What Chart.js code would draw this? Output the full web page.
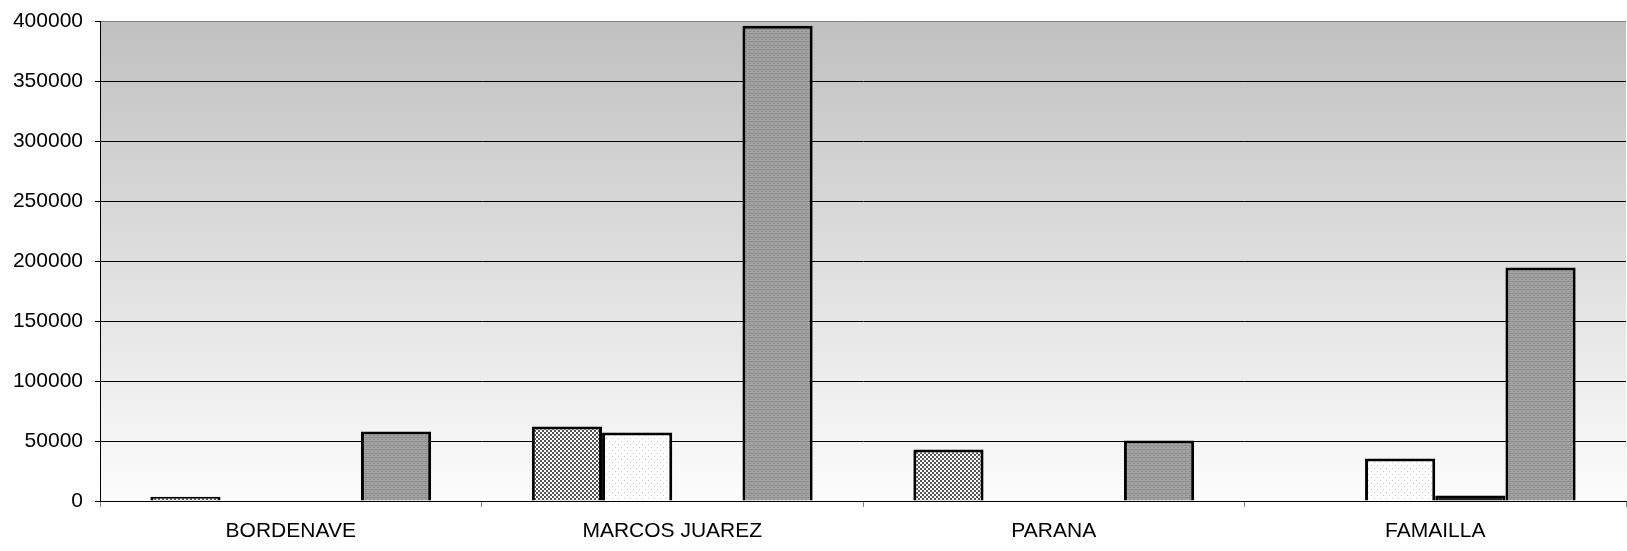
<!DOCTYPE html>
<html>
<head>
<meta charset="utf-8">
<script src="https://cdn.jsdelivr.net/npm/chart.js@4/dist/chart.umd.min.js"></script>
<style>
  html, body { margin: 0; padding: 0; background: #fff; }
  #wrap { width: 1627px; height: 551px; }
</style>
</head>
<body>
<div id="wrap"><canvas id="myChart" width="1627" height="551"></canvas></div>
<script>
// data
const categories = ['BORDENAVE', 'MARCOS JUAREZ', 'PARANA', 'FAMAILLA'];
const serie1 = [3500, 62000, 43000, 0];
const serie2 = [0, 57000, 0, 35500];
const serie3 = [0, 0, 0, 4500];
const serie4 = [58000, 396000, 50500, 194500];
const yTicks = [0, 50000, 100000, 150000, 200000, 250000, 300000, 350000, 400000];

// small canvas patterns for the bar fills
function makePattern(size, draw) {
  var c = document.createElement('canvas');
  c.width = size; c.height = size;
  var g = c.getContext('2d');
  draw(g);
  return g.createPattern(c, 'repeat');
}

var checker = makePattern(4, function (g) {
  g.fillStyle = '#ffffff'; g.fillRect(0, 0, 4, 4);
  g.fillStyle = '#555555'; g.fillRect(0, 0, 2, 2); g.fillRect(2, 2, 2, 2);
});
var dots = makePattern(6, function (g) {
  g.fillStyle = '#ffffff'; g.fillRect(0, 0, 6, 6);
  g.fillStyle = '#c8c8c8'; g.fillRect(0, 0, 1, 1); g.fillRect(3, 3, 1, 1);
});
var darkFill = makePattern(4, function (g) {
  g.fillStyle = '#222222'; g.fillRect(0, 0, 4, 4);
});
var grayFill = makePattern(4, function (g) {
  g.fillStyle = '#a4a4a4'; g.fillRect(0, 0, 4, 4);
  g.fillStyle = '#8c8c8c'; g.fillRect(0, 1, 4, 1); g.fillRect(1, 3, 2, 1);
});

const bgPlugin = {
  id: 'plotBackground',
  beforeDraw(chart) {
    var a = chart.chartArea, ctx = chart.ctx;
    var grad = ctx.createLinearGradient(0, a.top, 0, a.bottom);
    grad.addColorStop(0, '#c0c0c0');
    grad.addColorStop(1, '#fcfcfc');
    ctx.save();
    ctx.fillStyle = grad;
    ctx.fillRect(a.left, a.top, a.right - a.left, a.bottom - a.top);
    ctx.restore();
  }
};

Chart.defaults.font.family = '"Liberation Sans", Arial, sans-serif';
Chart.defaults.color = '#000';

new Chart(document.getElementById('myChart'), {
  type: 'bar',
  data: {
    labels: categories,
    datasets: [
      { label: 'S1', data: serie1, backgroundColor: checker, borderColor: '#000', borderWidth: 3 },
      { label: 'S2', data: serie2, backgroundColor: dots, borderColor: '#000', borderWidth: 3 },
      { label: 'S3', data: serie3, backgroundColor: darkFill, borderColor: '#000', borderWidth: 3 },
      { label: 'S4', data: serie4, backgroundColor: grayFill, borderColor: '#000', borderWidth: 3 }
    ]
  },
  options: {
    responsive: false,
    animation: false,
    devicePixelRatio: 1,
    layout: { padding: { top: 21, right: 1, left: 0, bottom: 0 } },
    plugins: { legend: { display: false }, tooltip: { enabled: false } },
    datasets: { bar: { categoryPercentage: 0.736, barPercentage: 1.0, skipNull: false } },
    scales: {
      x: {
        grid: { offset: true, drawOnChartArea: false, drawTicks: true, tickLength: 6, tickColor: '#808080' },
        border: { color: '#000', width: 1 },
        ticks: { font: { size: 21 }, padding: 12, maxRotation: 0 },
        afterFit: function (s) { s.height = 50; s.paddingLeft = 0; s.paddingRight = 0; }
      },
      y: {
        min: 0, max: 400000,
        afterBuildTicks: function (s) { s.ticks = yTicks.map(function (v) { return { value: v }; }); },
        grid: {
          color: function (c) { return c.tick && c.tick.value === 400000 ? '#808080' : '#000'; },
          tickColor: '#000', tickLength: 5, lineWidth: 1
        },
        border: { color: '#000', width: 1 },
        ticks: { font: { size: 21 }, padding: 12, callback: function (v) { return String(v); } },
        afterFit: function (s) { s.width = 100; s.paddingTop = 0; s.paddingBottom = 0; }
      }
    }
  },
  plugins: [bgPlugin]
});
</script>
</body>
</html>
